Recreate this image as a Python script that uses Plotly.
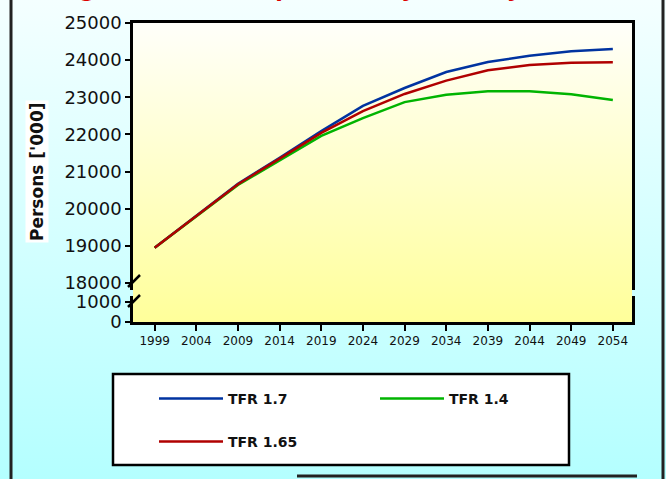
import base64
import plotly.graph_objects as go
from plotly.subplots import make_subplots

years = [1999, 2004, 2009, 2014, 2019, 2024, 2029, 2034, 2039, 2044, 2049, 2054]
tfr_17 = [18950, 19800, 20670, 21370, 22090, 22770, 23250, 23680, 23950, 24120, 24240, 24300]
tfr_14 = [18950, 19790, 20640, 21300, 21960, 22440, 22870, 23070, 23160, 23160, 23080, 22930]
tfr_165 = [18950, 19800, 20660, 21350, 22040, 22630, 23090, 23450, 23730, 23870, 23930, 23940]
series_names = ["TFR 1.7", "TFR 1.4", "TFR 1.65"]
series_colors = ["#0033a0", "#00b400", "#b00000"]
top_ticks = [18000, 19000, 20000, 21000, 22000, 23000, 24000, 25000]
low_ticks = [0, 1000]

W, H = 666, 479
L, R, T, B = 133, 34, 23, 157
PW, PH = W - L - R, H - T - B


def px(x):
    return (x - L) / PW


def py(y):
    return (H - B - y) / PH


def gradient(top, bottom):
    svg = ("<svg xmlns='http://www.w3.org/2000/svg' width='100' height='100' preserveAspectRatio='none'>"
           "<defs><linearGradient id='g' x1='0' y1='0' x2='0' y2='1'>"
           f"<stop offset='0' stop-color='{top}'/><stop offset='1' stop-color='{bottom}'/>"
           "</linearGradient></defs><rect width='100' height='100' fill='url(#g)'/></svg>")
    return "data:image/svg+xml;base64," + base64.b64encode(svg.encode()).decode()


fig = make_subplots(rows=2, cols=1, shared_xaxes=True)

legends = ["legend", "legend3", "legend2"]
for vals, name, color, leg in zip([tfr_17, tfr_14, tfr_165], series_names, series_colors, legends):
    fig.add_trace(go.Scatter(x=years, y=vals, name=name, mode="lines",
                             line=dict(color=color, width=2.5), legend=leg), row=1, col=1)

# keeps the lower (0 - 1000) part of the broken axis drawn
fig.add_trace(go.Scatter(x=years, y=[None] * len(years), mode="lines", showlegend=False,
                         hoverinfo="skip"), row=2, col=1)

axis_font = dict(family="DejaVu Sans", color="#111111")

fig.update_xaxes(range=[1996.4, 2056.3], showgrid=False, zeroline=False,
                 showline=True, linecolor="black", linewidth=2.5)
fig.update_xaxes(side="top", ticks="", showticklabels=False, row=1, col=1)
fig.update_xaxes(tickvals=years, ticks="outside", ticklen=6, tickwidth=2, tickcolor="black",
                 tickfont=dict(size=12, **axis_font), row=2, col=1)

fig.update_yaxes(showgrid=False, zeroline=False, showline=True, mirror=True,
                 linecolor="black", linewidth=2.5, ticks="outside", ticklen=5,
                 tickwidth=2, tickcolor="black", tickformat="d",
                 tickfont=dict(size=18, **axis_font))
fig.update_yaxes(range=[17812, 25000], tickvals=top_ticks, domain=[py(290), 1], row=1, col=1)
fig.update_yaxes(range=[0, 1300], tickvals=low_ticks, domain=[0, py(296)], row=2, col=1)

shapes = []
# outer frame lines
for xx in [11, 663]:
    shapes.append(dict(type="line", xref="paper", yref="paper", x0=px(xx), x1=px(xx),
                       y0=py(0), y1=py(H), line=dict(color="#222222", width=3)))
shapes.append(dict(type="line", xref="paper", yref="paper", x0=px(297), x1=px(637),
                   y0=py(476), y1=py(476), line=dict(color="#222222", width=3)))
# axis break marks
for yy in [281, 301]:
    shapes.append(dict(type="line", xref="paper", yref="paper", x0=px(128), x1=px(140),
                       y0=py(yy + 6), y1=py(yy - 6), line=dict(color="black", width=2.5)))
# legend box
shapes.append(dict(type="rect", xref="paper", yref="paper", x0=px(113), x1=px(569),
                   y0=py(465), y1=py(374), fillcolor="white", line=dict(color="black", width=2.5),
                   layer="below"))

images = [
    dict(source=gradient("#f4ffff", "#b4ffff"), xref="paper", yref="paper",
         x=px(0), y=py(0), sizex=W / PW, sizey=H / PH, sizing="stretch", layer="below"),
    dict(source=gradient("#fffffa", "#ffff9a"), xref="paper", yref="paper",
         x=0, y=1, sizex=1, sizey=1, sizing="stretch", layer="below"),
]

legend_font = dict(family="DejaVu Sans", size=14, color="#111111", weight="bold")


def legend_at(x, y):
    return dict(orientation="h", x=px(x), y=py(y), xanchor="left", yanchor="top",
                bgcolor="rgba(0,0,0,0)", borderwidth=0, itemwidth=64, font=legend_font)


fig.update_layout(
    width=W, height=H,
    margin=dict(l=L, r=R, t=T, b=B),
    paper_bgcolor="#d8ffff",
    plot_bgcolor="rgba(0,0,0,0)",
    font=dict(family="DejaVu Sans", color="#111111"),
    shapes=shapes,
    images=images,
    legend=legend_at(154, 383),
    legend3=legend_at(375, 383),
    legend2=legend_at(154, 426),
    annotations=[
        dict(text="Persons ['000]", textangle=-90, xref="paper", yref="paper",
             x=px(37), y=py(172), xanchor="center", yanchor="middle", showarrow=False,
             bgcolor="white", font=dict(family="DejaVu Sans", size=17, color="#111111",
                                        weight="bold")),
        dict(text="Figure 1: Total Population by Fertility", xref="paper", yref="paper",
             x=px(55), y=py(4), xanchor="left", yanchor="bottom", showarrow=False,
             font=dict(family="DejaVu Sans", size=22, color="#dd0000", weight="bold")),
    ],
)

fig.write_html("out.html", config={"displayModeBar": False},
               post_script="document.body.style.margin='0';")
